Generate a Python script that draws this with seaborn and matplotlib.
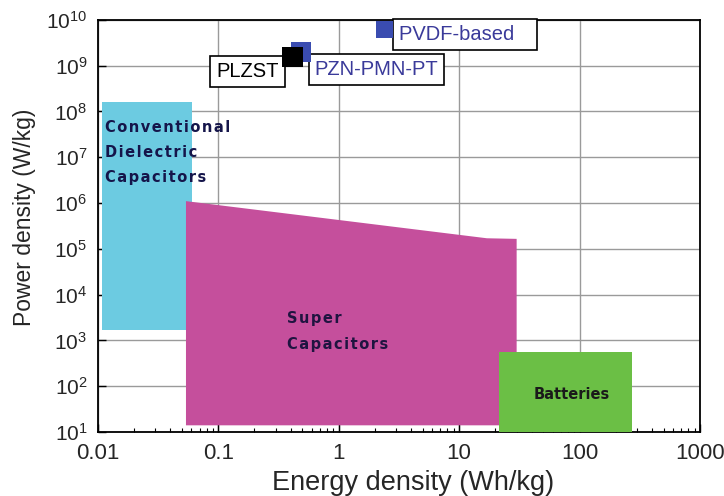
import numpy as np
import pandas as pd
import matplotlib
matplotlib.use("Agg")
import matplotlib.pyplot as plt
import seaborn as sns

# Region outlines (energy density Wh/kg, power density W/kg)
conv_x = [0.0108, 0.061, 0.061, 0.0108]
conv_y = [1.7e3, 1.7e3, 1.6e8, 1.6e8]

super_x = [0.054, 0.054, 17, 30, 30]
super_y = [14, 1.1e6, 1.7e5, 1.65e5, 14]

batt_x = [21.5, 270, 270, 21.5]
batt_y = [10, 10, 560, 560]

# Material data points
materials = ["PVDF-based", "PZN-PMN-PT", "PLZST"]
energy = [2.4, 0.49, 0.415]
power = [6.3e9, 2.0e9, 1.55e9]
marker_size = [150, 205, 225]
marker_colors = ["#3a4cb0", "#3a4cb0", "#000000"]
label_colors = ["#3a3a9a", "#3a3a9a", "#000000"]

x_ticks = [0.01, 0.1, 1, 10, 100, 1000]
x_ticklabels = ["0.01", "0.1", "1", "10", "100", "1000"]
y_ticks = [10.0 ** k for k in range(1, 11)]


def spaced(text):
    # letter-spaced look of the region captions
    return "\n".join("\u200a".join(line) for line in text.split("\n"))


sns.set_style("ticks")
plt.rcParams["font.family"] = ["Liberation Sans", "DejaVu Sans"]

fig = plt.figure(figsize=(7.24, 4.96), dpi=100)
ax = fig.add_axes([0.135, 0.129, 0.832, 0.831])
ax.set_xscale("log")
ax.set_yscale("log")
ax.set_xlim(0.01, 1000)
ax.set_ylim(10, 1e10)

ax.grid(True, which="major", color="#9a9a9a", linewidth=1.0, zorder=0)

ax.fill(conv_x, conv_y, color="#6ccbe1", lw=0, zorder=2)
ax.fill(super_x, super_y, color="#c54f9c", lw=0, zorder=3)
ax.fill(batt_x, batt_y, color="#6bbf45", lw=0, zorder=4)

df = pd.DataFrame({"material": materials, "energy": energy, "power": power})
sns.scatterplot(data=df, x="energy", y="power", hue="material", size="material",
                palette=dict(zip(materials, marker_colors)),
                sizes=dict(zip(materials, marker_size)), marker="s",
                linewidth=0, legend=False, ax=ax, zorder=8)

box = dict(boxstyle="square,pad=0.3", fc="white", ec="black", lw=1.2)
ax.annotate(materials[0] + "   ", (energy[0], power[0]), xytext=(10.5, -4), textcoords="offset points",
            ha="left", va="center", fontsize=14.5, color=label_colors[0], bbox=box, zorder=7)
ax.annotate(materials[1], (energy[1], power[1]), xytext=(9.5, -12.5), textcoords="offset points",
            ha="left", va="center", fontsize=14.5, color=label_colors[1], bbox=box, zorder=7)
ax.annotate(materials[2], (energy[2], power[2]), xytext=(-10, -10.5), textcoords="offset points",
            ha="right", va="center", fontsize=14.5, color=label_colors[2], bbox=box, zorder=7)

region_font = dict(family="DejaVu Sans", fontsize=10.5, fontweight="bold", zorder=5)
ax.text(0.01143, 1.25e7, spaced("Conventional\nDielectric\nCapacitors"), color="#15154a",
        ha="left", va="center", linespacing=1.85, **region_font)
ax.text(0.37, 1.55e3, spaced("Super\nCapacitors"), color="#1f1440",
        ha="left", va="center", linespacing=1.9, **region_font)
ax.text(86, 65, "Batteries", color="#1a1a1a", ha="center", va="center", **region_font)

ax.set_xticks(x_ticks)
ax.set_xticklabels(x_ticklabels)
ax.set_yticks(y_ticks)
ax.tick_params(axis="both", which="major", direction="in", length=6,
               color="black", width=1.0)
ax.tick_params(axis="both", which="minor", direction="in", length=3, color="black", width=0.8)
ax.tick_params(axis="x", labelsize=16, pad=8)
ax.tick_params(axis="y", labelsize=15, pad=7.5)
for spine in ax.spines.values():
    spine.set_visible(True)
    spine.set_color("black")
    spine.set_linewidth(1.3)

ax.set_xlabel("Energy density (Wh/kg)", fontsize=19.5)
ax.set_ylabel("Power density (W/kg)", fontsize=16.5)
ax.xaxis.set_label_coords(0.524, -0.093)
ax.yaxis.set_label_coords(-0.102, 0.522)

fig.savefig("out.png", dpi=100)
